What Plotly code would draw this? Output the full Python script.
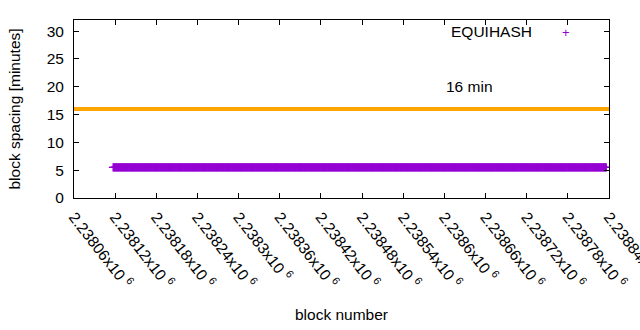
import plotly.graph_objects as go

# ---- data ----
block_start = 2238117
block_end = 2238836
block_numbers = list(range(block_start, block_end + 1))
# block spacing in minutes: the band sits flat at ~5.5 min across the whole span
spacing_min = [5.5] * len(block_numbers)

series_name = "EQUIHASH"
target_spacing = 16            # orange reference line, minutes
target_label = "16 min"

x_range = [2238060, 2238840]
x_tick_vals = list(range(2238060, 2238841, 60))
x_tick_text = [f"{v/1e6:.6g}x10 <sup>6</sup>" for v in x_tick_vals]
y_range = [0, 32]
y_tick_vals = [0, 5, 10, 15, 20, 25, 30]

FONT = "Liberation Sans, Arial, sans-serif"
FS = 15.5
PURPLE = "#9400d3"
ORANGE = "#ffa500"

fig = go.Figure()

# orange 16-minute line
fig.add_trace(go.Scatter(
    x=x_range, y=[target_spacing, target_spacing], mode="lines",
    line=dict(color=ORANGE, width=4), showlegend=False, hoverinfo="skip"))

# equihash block spacing points
fig.add_trace(go.Scatter(
    x=block_numbers, y=spacing_min, mode="markers", name=series_name,
    marker=dict(symbol="cross-thin", size=6, color=PURPLE,
                line=dict(color=PURPLE, width=1.3)),
    showlegend=False))

axis_common = dict(showgrid=False, zeroline=False, showline=True, linecolor="black",
                   linewidth=1, mirror="ticks", ticks="inside", ticklen=5,
                   tickcolor="black", tickwidth=1,
                   tickfont=dict(family=FONT, size=FS, color="black"))

fig.update_xaxes(range=[x_range[0], x_range[1] + 0.01], tickmode="array", tickvals=x_tick_vals,
                 ticktext=x_tick_text, tickangle=52, ticklabelstandoff=3,
                 ticklabeloverflow="allow",
                 title=dict(text="block number", font=dict(family=FONT, size=FS, color="black"),
                            standoff=18),
                 automargin=False, **axis_common)
fig.update_yaxes(range=y_range, tickmode="array", tickvals=y_tick_vals,
                 ticklabelstandoff=6,
                 title=dict(text="block spacing [minutes]",
                            font=dict(family=FONT, size=FS, color="black"), standoff=22),
                 automargin=False, **axis_common)

# key (gnuplot style: text then sample symbol)
fig.add_annotation(x=0.859, y=0.935, xref="paper", yref="paper", text=series_name,
                   showarrow=False, xanchor="right", yanchor="middle",
                   font=dict(family=FONT, size=FS, color="black"))
fig.add_annotation(x=0.9205, y=0.930, xref="paper", yref="paper", text="+",
                   showarrow=False, xanchor="center", yanchor="middle",
                   font=dict(family=FONT, size=13, color=PURPLE))

# 16 min label
fig.add_annotation(x=2238600, y=20, xref="x", yref="y", text=target_label,
                   showarrow=False, xanchor="left", yanchor="middle",
                   font=dict(family=FONT, size=FS, color="black"))

fig.update_layout(
    width=640, height=330,
    margin=dict(l=74, r=31, t=20, b=132),
    paper_bgcolor="white", plot_bgcolor="white",
    font=dict(family=FONT, size=FS, color="black"),
)

fig.write_html("out.html")
